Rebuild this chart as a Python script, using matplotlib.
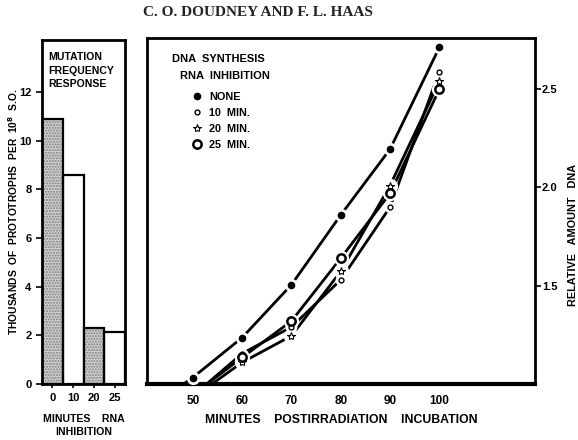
import matplotlib
matplotlib.use("Agg")
import matplotlib.pyplot as plt

# --- barras: resposta de frequencia de mutacao ---
bar_labels = ["0", "10", "20", "25"]
bar_values = [10.9, 8.6, 2.3, 2.15]
bar_stippled = [True, False, True, False]

# --- curvas: sintese de DNA ---
# o primeiro ponto de cada serie so marca onde a linha encontra o eixo (sem marcador)
min_none = [47, 50, 60, 70, 80, 90, 100]
dna_none = [0.98, 1.033, 1.236, 1.505, 1.86, 2.195, 2.713]
min_inib = [50, 60, 70, 80, 90, 100]
dna_10 = [0.94, 1.155, 1.29, 1.53, 1.90, 2.59]
dna_20 = [0.93, 1.11, 1.245, 1.573, 2.01, 2.54]
dna_25 = [0.945, 1.135, 1.32, 1.64, 1.97, 2.50]
xticks_min = [50, 60, 70, 80, 90, 100]

FONT = "Liberation Sans"
plt.rcParams["font.family"] = FONT
plt.rcParams["font.weight"] = "bold"
plt.rcParams["axes.labelweight"] = "bold"

fig = plt.figure(figsize=(5.78, 4.40), dpi=100, facecolor="white")

fig.text(0.447, 0.972, "C. O. DOUDNEY AND F. L. HAAS", ha="center", va="center",
         family="Liberation Serif", fontsize=11, weight="bold", color="#222")

# ---------- painel esquerdo ----------
ax1 = fig.add_axes([0.0727, 0.1273, 0.1436, 0.782])
xs = range(len(bar_values))
for x, v, st in zip(xs, bar_values, bar_stippled):
    if st:
        ax1.bar(x, v, width=1.0, color="#d0d0d0", hatch="......",
                edgecolor="#808080", linewidth=0)
    ax1.bar(x, v, width=1.0, fill=False, edgecolor="black", linewidth=1.6)
ax1.set_xlim(-0.5, 3.5)
ax1.set_ylim(0, 14.14)
ax1.set_yticks([0, 2, 4, 6, 8, 10, 12])
ax1.set_xticks(list(xs))
ax1.set_xticklabels(bar_labels)
ax1.tick_params(axis="both", labelsize=8, width=1.2, length=4, direction="out")
ax1.tick_params(axis="x", length=3)
for s in ax1.spines.values():
    s.set_linewidth(2.0)
ax1.text(0.07, 0.965, "MUTATION\nFREQUENCY\nRESPONSE", transform=ax1.transAxes,
         ha="left", va="top", fontsize=7.6, linespacing=1.45)
ax1.set_ylabel("THOUSANDS  OF  PROTOTROPHS  PER  10$^{\\mathbf{8}}$  S.O.",
               fontsize=7.4)
ax1.yaxis.set_label_coords(-0.27, 0.5)
ax1.set_xlabel("MINUTES    RNA\nINHIBITION", fontsize=7.6, labelpad=8,
               linespacing=1.3)

# ---------- painel direito ----------
ax2 = fig.add_axes([0.2543, 0.1273, 0.6713, 0.786])
series = [
    (min_none, dna_none, dict(marker="o", ms=4.5, mfc="black", mec="black", mew=1), "NONE"),
    (min_inib, dna_10, dict(marker="o", ms=3.5, mfc="white", mec="black", mew=1), "10  MIN."),
    (min_inib, dna_20, dict(marker="*", ms=6, mfc="white", mec="black", mew=0.8), "20  MIN."),
    (min_inib, dna_25, dict(marker="o", ms=6, mfc="white", mec="black", mew=1.8), "25  MIN."),
]
handles = []
for mx, ys, mk, lab in series:
    ax2.plot(mx, ys, color="black", linewidth=2.0, solid_capstyle="butt",
             zorder=2)
    # pequeno halo branco em volta dos marcadores, como no original
    ax2.plot(mx[1:], ys[1:], linestyle="none", marker="o", ms=mk["ms"] + 4,
             mfc="white", mec="white", zorder=3)
    h, = ax2.plot(mx[1:], ys[1:], linestyle="none", zorder=4, **mk)
    handles.append((h, lab))

ax2.set_xlim(40.7, 119.4)
ax2.set_ylim(1.0, 2.76)
ax2.set_xticks(xticks_min)
ax2.tick_params(axis="x", length=0, labelsize=8.5, pad=8)
ax2.yaxis.tick_right()
ax2.set_yticks([1.5, 2.0, 2.5])
ax2.set_yticklabels(["1.5", "2.0", "2.5"])
ax2.tick_params(axis="y", labelsize=8, width=1.2, length=4, direction="out", pad=1)
for s in ax2.spines.values():
    s.set_linewidth(2.0)
ax2.spines["bottom"].set_linewidth(3.0)
ax2.set_xlabel("MINUTES    POSTIRRADIATION    INCUBATION", fontsize=8.8, labelpad=5)
ax2.yaxis.set_label_position("right")
ax2.set_ylabel("RELATIVE   AMOUNT   DNA", fontsize=7.8, labelpad=10)
ax2.yaxis.set_label_coords(1.085, 0.43)

ax2.text(0.065, 0.94, "DNA  SYNTHESIS", transform=ax2.transAxes,
         ha="left", va="center", fontsize=8)
ax2.text(0.085, 0.89, "RNA  INHIBITION", transform=ax2.transAxes,
         ha="left", va="center", fontsize=8)
ax2.legend([h for h, _ in handles], [l for _, l in handles], loc="upper left",
           bbox_to_anchor=(0.115, 0.845), frameon=False, fontsize=7.8,
           handlelength=1.0, handletextpad=0.6, labelspacing=0.55,
           borderaxespad=0, borderpad=0)

fig.savefig("out.png", dpi=100, facecolor="white")
